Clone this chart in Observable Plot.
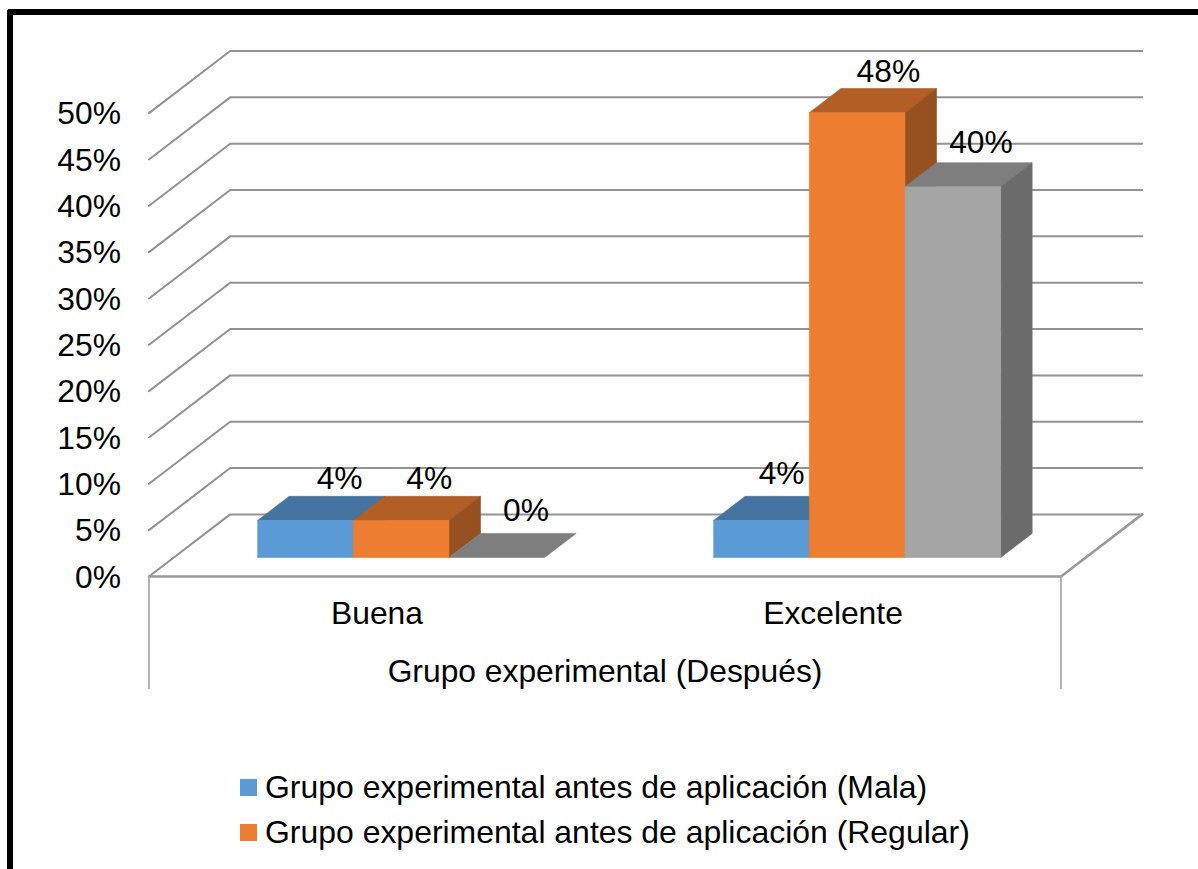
<!DOCTYPE html>
<html lang="es">
<head>
<meta charset="utf-8">
<title>Grupo experimental (Después)</title>
<script src="https://cdn.jsdelivr.net/npm/d3@7"></script>
<script src="https://cdn.jsdelivr.net/npm/@observablehq/plot@0.6"></script>
<style>
  html, body { margin: 0; padding: 0; background: #fff; overflow: hidden; height: 100%; }
  #chart svg { display: block; }
  #frame {
    position: fixed; left: 7px; top: 9px; right: -10px; bottom: -10px;
    border-top: 6px solid #000; border-left: 6px solid #000;
    border-top-left-radius: 3px; pointer-events: none;
  }
  #legend { font: 31.95px "Liberation Sans", Arial, sans-serif; color: #000; }
  .row { display: flex; align-items: center; height: 45px; padding-left: 240px; white-space: nowrap; }
  .swatch { width: 17px; height: 17px; margin-right: 8px; flex: none; }
</style>
</head>
<body>
<div id="chart"></div>
<div id="legend"></div>
<div id="frame"></div>
<script>
// Values in percent, one list per series, in the order of the categories.
const categories = ["Buena", "Excelente"];
const groupLabel = "Grupo experimental (Después)";
const mala = [4, 4];
const regular = [4, 48];
const tercera = [0, 40];
const ticks = [0, 5, 10, 15, 20, 25, 30, 35, 40, 45, 50];
const legendLabels = [
  "Grupo experimental antes de aplicación (Mala)",
  "Grupo experimental antes de aplicación (Regular)"
];

// Shades per series: front, top and side faces of each box.
const shades = [
  {front: "#5B9BD5", top: "#44749F", side: "#3C6A93"},
  {front: "#ED7D31", top: "#B25E25", side: "#97501F"},
  {front: "#A5A5A5", top: "#7E7E7E", side: "#6B6B6B"}
];
const seriesValues = [mala, regular, tercera];

// Oblique projection: depth d (0 front, 1 back wall) shifts a point in data units.
const depthX = 0.178;
const depthY = 6.7;
const project = (x, v, d) => ({x: x + d * depthX, y: v + d * depthY});

// Bar footprint, in x units and depth fractions.
const barWidth = 0.2098;
const barNudge = -0.0015;
const barFront = 0.306;
const barBack = 0.694;

const faces = [];
function addFace(id, color, corners) {
  for (const [x, v, d] of [...corners, corners[0]]) {
    faces.push({id, color, ...project(x, v, d)});
  }
}
// Boxes go back to front, left to right, so nearer faces cover farther ones.
categories.forEach((category, c) => {
  seriesValues.forEach((values, s) => {
    const v = values[c];
    const x0 = c + 0.5 + barNudge + (s - 1.5) * barWidth;
    const x1 = x0 + barWidth;
    const id = `${category}-${s}`;
    addFace(`${id}-top`, shades[s].top, [[x0, v, barFront], [x1, v, barFront], [x1, v, barBack], [x0, v, barBack]]);
    if (v > 0) {
      addFace(`${id}-side`, shades[s].side, [[x1, 0, barFront], [x1, v, barFront], [x1, v, barBack], [x1, 0, barBack]]);
      addFace(`${id}-front`, shades[s].front, [[x0, 0, barFront], [x1, 0, barFront], [x1, v, barFront], [x0, v, barFront]]);
    }
  });
});

// Wall gridlines: up the left wall, then along the back wall.
const grid = ticks.flatMap((t) => [
  {t, ...project(0, t, 0)},
  {t, ...project(0, t, 1)},
  {t, ...project(2, t, 1)}
]);
const floorEdge = [project(0, 0, 0), project(2, 0, 0), project(2, 0, 1)];

// Data labels sit above the back edge of each box, with small hand offsets.
const labelOffsets = [
  [[2, -18], [-4, -18], [-3, -23]],
  [[-12, -23], [-1, -17], [-4, -20]]
];
const labels = categories.flatMap((category, c) =>
  seriesValues.map((values, s) => {
    const v = values[c];
    const pos = project(c + 0.5 + (s - 1) * barWidth, v, barBack);
    return {...pos, text: `${v}%`, dx: labelOffsets[c][s][0], dy: labelOffsets[c][s][1]};
  })
);

const fontSize = 31.8;
const textStyle = {fontSize, fontFamily: "Liberation Sans, Arial, sans-serif", fill: "#000"};
const axisDrop = -12.2;

const plot = Plot.plot({
  width: 1198,
  height: 765,
  marginLeft: 148.5,
  marginRight: 137.5,
  marginTop: 112.6,
  marginBottom: 765 - 576,
  x: {domain: [0, 2], axis: null},
  y: {domain: [0, 50], axis: null},
  color: {type: "identity"},
  style: {fontFamily: "Liberation Sans, Arial, sans-serif", fontSize: `${fontSize}px`, overflow: "visible"},
  marks: [
    Plot.line(grid, {x: "x", y: "y", z: "t", stroke: "#929292", strokeWidth: 2}),
    Plot.line(floorEdge, {x: "x", y: "y", stroke: "#9a9a9a", strokeWidth: 2.6}),
    Plot.ruleX([0, 2], {y1: 0, y2: axisDrop, stroke: "#a2a2a2", strokeWidth: 1.6}),
    Plot.line(faces, {x: "x", y: "y", z: "id", fill: "color", stroke: "color", strokeWidth: 0.6}),
    Plot.axisY({ticks, tickFormat: (d) => `${d}%`, tickSize: 0, tickPadding: 28, dy: 1, label: null, fontSize, fill: "#000"}),
    Plot.axisX({
      ticks: categories.map((_, i) => i + 0.5),
      tickFormat: (d) => categories[Math.floor(d)],
      tickSize: 0, tickPadding: 25, label: null, fontSize, fill: "#000"
    }),
    Plot.text([groupLabel], {x: () => 1, y: () => 0, text: (d) => d, dy: 95, ...textStyle}),
    ...labels.map((l) => Plot.text([l], {x: "x", y: "y", text: "text", dx: l.dx, dy: l.dy, ...textStyle}))
  ]
});
document.getElementById("chart").append(plot);

// Legend rows under the chart.
const legend = document.getElementById("legend");
legendLabels.forEach((label, i) => {
  const row = document.createElement("div");
  row.className = "row";
  const swatch = document.createElement("span");
  swatch.className = "swatch";
  swatch.style.background = shades[i].front;
  row.append(swatch, label);
  legend.append(row);
});
</script>
</body>
</html>
